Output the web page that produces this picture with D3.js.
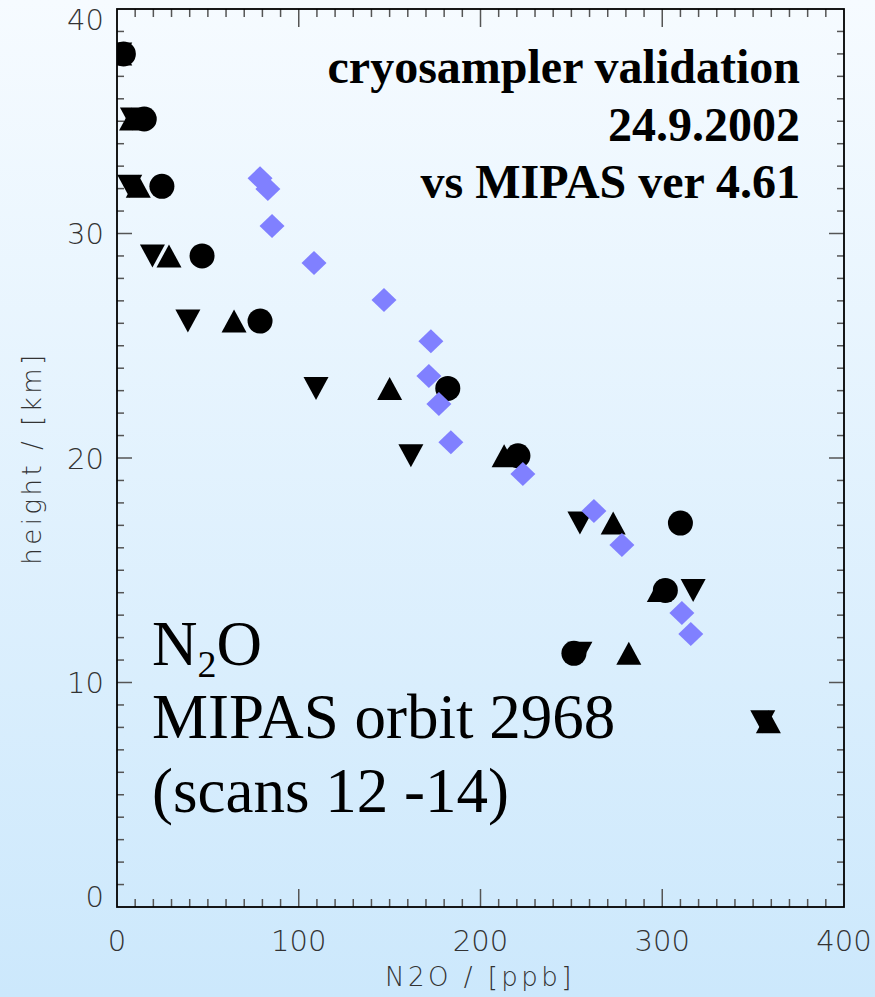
<!DOCTYPE html>
<html>
<head>
<meta charset="utf-8">
<script src="https://cdn.jsdelivr.net/npm/d3@7"></script>
<style>
  html, body { margin: 0; padding: 0; }
  svg { display: block; }
</style>
</head>
<body>
<div id="chart"></div>
<script>
// Altitude levels (km) of each measurement series
const circleHeights = [38.0, 35.1, 32.1, 29.0, 26.1, 23.1, 20.1, 17.1, 14.1, 11.3];
const circleValues  = [3.5, 15.0, 24.7, 46.8, 78.7, 182.0, 220.6, 310.0, 301.7, 251.4];

const triUpHeights = [38.0, 35.1, 32.1, 29.0, 26.1, 23.1, 20.1, 17.1, 14.1, 11.3, 8.25];
const triUpValues  = [1.5, 8.0, 11.7, 28.6, 64.4, 150.0, 213.0, 273.0, 298.4, 281.6, 358.4];

const triDownHeights = [38.0, 35.1, 32.1, 29.0, 26.1, 23.1, 20.1, 17.1, 14.1, 11.3, 8.25];
const triDownValues  = [1.5, 8.5, 7.0, 19.5, 39.0, 109.5, 161.7, 254.7, 317.0, 254.7, 355.3];

// MIPAS retrieval
const mipasHeights = [32.46, 31.98, 30.33, 28.69, 27.04, 25.2, 23.65, 22.4, 20.7, 19.29, 17.64, 16.12, 13.1, 12.16];
const mipasValues  = [78.7, 83.0, 85.3, 108.4, 146.9, 172.7, 171.6, 177.1, 183.7, 223.3, 262.4, 277.8, 310.8, 315.7];

const xTicks = [0, 100, 200, 300, 400];
const yTicks = [0, 10, 20, 30, 40];

const titleLines = ["cryosampler validation", "24.9.2002", "vs MIPAS ver 4.61"];
const infoLines = ["MIPAS orbit 2968", "(scans 12 -14)"];

const W = 875, H = 997;
const m = { left: 117, right: 844, top: 9, bottom: 907 };

const svg = d3.select("#chart").append("svg")
  .attr("width", W).attr("height", H);

const defs = svg.append("defs");
const grad = defs.append("linearGradient").attr("id", "bg")
  .attr("x1", 0).attr("y1", 0).attr("x2", 0).attr("y2", 1);
grad.append("stop").attr("offset", "0%").attr("stop-color", "#f6fbff");
grad.append("stop").attr("offset", "100%").attr("stop-color", "#cce8fc");
svg.append("rect").attr("width", W).attr("height", H).attr("fill", "url(#bg)");

defs.append("clipPath").attr("id", "plotclip").append("rect")
  .attr("x", m.left).attr("y", m.top)
  .attr("width", m.right - m.left).attr("height", m.bottom - m.top);

const x = d3.scaleLinear().domain([0, 400]).range([m.left, m.right]);
const y = d3.scaleLinear().domain([0, 40]).range([m.bottom, m.top]);

const tickColor = "#555";
const axisFont = "'DejaVu Sans ExtraLight', 'DejaVu Sans', sans-serif";

// Inward-pointing ticks on all four sides
const axes = svg.append("g");
const minorX = d3.range(0, 401, 10);
const minorY = d3.range(0, 41, 1);
minorX.forEach(v => {
  const major = v % 100 === 0;
  const len = major ? 18 : 8;
  if (v === 0 || v === 400) return;
  axes.append("line").attr("x1", x(v)).attr("x2", x(v))
    .attr("y1", m.bottom).attr("y2", m.bottom - len)
    .attr("stroke", tickColor).attr("stroke-width", 1.5);
  axes.append("line").attr("x1", x(v)).attr("x2", x(v))
    .attr("y1", m.top).attr("y2", m.top + len)
    .attr("stroke", tickColor).attr("stroke-width", 1.5);
});
minorY.forEach(v => {
  const major = v % 10 === 0;
  const len = major ? 15 : 7;
  if (v === 0 || v === 40) return;
  axes.append("line").attr("y1", y(v)).attr("y2", y(v))
    .attr("x1", m.left).attr("x2", m.left + len)
    .attr("stroke", tickColor).attr("stroke-width", 1.5);
  axes.append("line").attr("y1", y(v)).attr("y2", y(v))
    .attr("x1", m.right).attr("x2", m.right - len)
    .attr("stroke", tickColor).attr("stroke-width", 1.5);
});
axes.append("rect")
  .attr("x", m.left).attr("y", m.top)
  .attr("width", m.right - m.left).attr("height", m.bottom - m.top)
  .attr("fill", "none").attr("stroke", "#000").attr("stroke-width", 1.8);

// Tick labels (end labels on the height axis are kept inside the axis span)
svg.append("g").selectAll("text").data(xTicks).join("text")
  .attr("x", d => x(d)).attr("y", 951)
  .attr("text-anchor", "middle")
  .attr("font-family", axisFont).attr("font-weight", 200)
  .attr("font-size", 29).attr("fill", "#333")
  .text(d => d);
svg.append("g").selectAll("text").data(yTicks).join("text")
  .attr("x", 104)
  .attr("y", d => {
    const yy = y(d) + 10.5;
    return Math.min(Math.max(yy, m.top + 20.5), m.bottom);
  })
  .attr("text-anchor", "end")
  .attr("font-family", axisFont).attr("font-weight", 200)
  .attr("font-size", 29).attr("fill", "#333")
  .text(d => d);

// Axis titles
svg.append("text")
  .attr("x", 480).attr("y", 986)
  .attr("text-anchor", "middle")
  .attr("font-family", axisFont).attr("font-weight", 200)
  .attr("font-size", 26).attr("letter-spacing", 3.5).attr("fill", "#333")
  .text("N2O / [ppb]");
svg.append("text")
  .attr("transform", "translate(41,458) rotate(-90)")
  .attr("text-anchor", "middle")
  .attr("font-family", axisFont).attr("font-weight", 200)
  .attr("font-size", 26).attr("letter-spacing", 3.5).attr("fill", "#333")
  .text("height / [km]");

// Marker shapes
const triUp = (w, h) => `M0,${-h/2}L${w/2},${h/2}L${-w/2},${h/2}Z`;
const triDown = (w, h) => `M0,${h/2}L${w/2},${-h/2}L${-w/2},${-h/2}Z`;
const diamond = (w, h) => `M0,${-h/2}L${w/2},0L0,${h/2}L${-w/2},0Z`;

const plot = svg.append("g").attr("clip-path", "url(#plotclip)");

plot.append("g").selectAll("circle").data(d3.zip(circleValues, circleHeights)).join("circle")
  .attr("cx", d => x(d[0])).attr("cy", d => y(d[1])).attr("r", 12.5).attr("fill", "#000");

plot.append("g").selectAll("path").data(d3.zip(triUpValues, triUpHeights)).join("path")
  .attr("transform", d => `translate(${x(d[0])},${y(d[1])})`)
  .attr("d", triUp(25, 23)).attr("fill", "#000");

plot.append("g").selectAll("path").data(d3.zip(triDownValues, triDownHeights)).join("path")
  .attr("transform", d => `translate(${x(d[0])},${y(d[1])})`)
  .attr("d", triDown(25, 23)).attr("fill", "#000");

plot.append("g").selectAll("path").data(d3.zip(mipasValues, mipasHeights)).join("path")
  .attr("transform", d => `translate(${x(d[0])},${y(d[1])})`)
  .attr("d", diamond(25, 24)).attr("fill", "#8080ff");

// Annotation text
const serif = "'Liberation Serif', 'Times New Roman', serif";
svg.append("g").selectAll("text").data(titleLines).join("text")
  .attr("x", 800).attr("y", (d, i) => 83 + i * 57.5)
  .attr("text-anchor", "end")
  .attr("font-family", serif).attr("font-weight", "bold")
  .attr("font-size", 48).attr("fill", "#000")
  .text(d => d);

const n2o = svg.append("text")
  .attr("x", 152).attr("y", 665)
  .attr("font-family", serif).attr("font-size", 63).attr("fill", "#000");
n2o.append("tspan").text("N");
n2o.append("tspan").attr("font-size", 38).attr("dy", 12).text("2");
n2o.append("tspan").attr("dy", -12).text("O");

svg.append("g").selectAll("text").data(infoLines).join("text")
  .attr("x", 152).attr("y", (d, i) => 738 + i * 74)
  .attr("font-family", serif).attr("font-size", 63).attr("fill", "#000")
  .text(d => d);
</script>
</body>
</html>
